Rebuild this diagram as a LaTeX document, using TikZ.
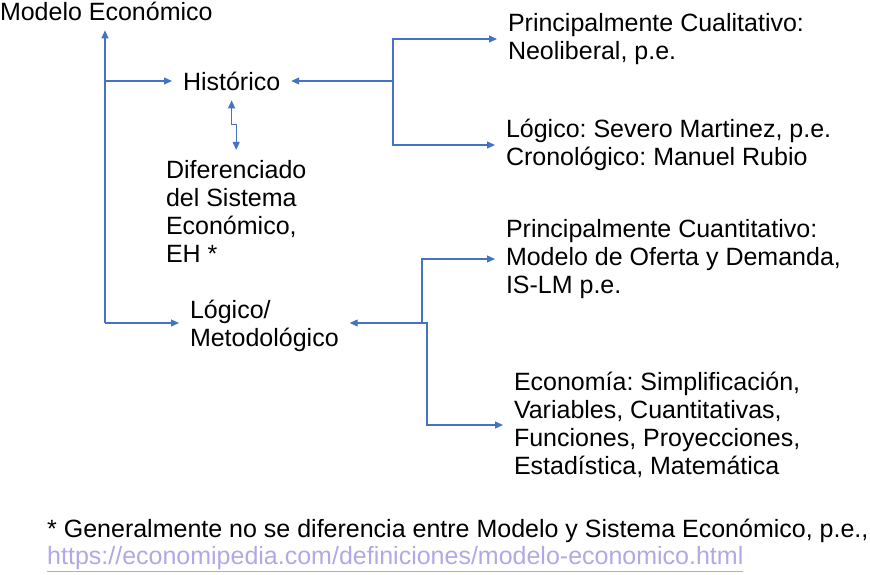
\documentclass[tikz,border=0pt]{standalone}
\usepackage{fontspec}
\setmainfont{Liberation Sans}
\usetikzlibrary{arrows.meta}
\definecolor{flecha}{RGB}{68,114,196}
\definecolor{enlace}{RGB}{180,167,229}
\frenchspacing
\tikzset{
  >={Triangle[length=8pt,width=7pt]},
  texto/.style={font=\fontsize{25}{28}\selectfont, align=left, anchor=west, inner sep=0pt, outer xsep=11pt, outer ysep=10pt, text=black},
  conector/.style={draw=flecha, line width=1.2pt},
  nota/.style={font=\fontsize{25}{28}\selectfont, anchor=west, inner sep=0pt},
}

\begin{document}
\begin{tikzpicture}[x=1pt,y=-1pt]
\useasboundingbox (0,0) rectangle (870,575);
\node[texto] (modelo) at (-11,11) {Modelo Económico};
\node[texto] (historico) at (172,81) {Histórico};
\node[texto] (diferenciado) at (155,211) {Diferenciado\\del Sistema\\Económico,\\EH *};
\node[texto] (logico) at (179,326) {Lógico/\\Metodológico};
\node[texto] (cualitativo) at (497,39) {Principalmente Cualitativo:\\Neoliberal, p.e.};
\node[texto] (severo) at (495,145) {Lógico: Severo Martinez, p.e.\\Cronológico: Manuel Rubio};
\node[texto] (cuantitativo) at (495,259) {Principalmente Cuantitativo:\\Modelo de Oferta y Demanda,\\IS-LM p.e.};
\node[texto] (economia) at (503,425) {Economía: Simplificación,\\Variables, Cuantitativas,\\Funciones, Proyecciones,\\Estadística, Matemática};
\node[nota] (asterisco) at (47,531) {* Generalmente no se diferencia entre Modelo y Sistema Económico, p.e.,};
\node[nota, text=enlace] (enlace) at (47,559) {\underline{https://economipedia.com/definiciones/modelo-economico.html}};

\coordinate (tronco) at (105,323);
\coordinate (nudoH) at (393,81);
\coordinate (nudoL) at (422,323);

\draw[conector,->] (tronco) -- (tronco |- modelo.south);
\draw[conector,->] (tronco |- historico.west) -- (historico.west);
\draw[conector,->] (tronco) -- (tronco -| logico.west);
\draw[conector,<->] (historico.south) -- ++(0,24) -| (diferenciado.north);
\draw[conector,->] (nudoH) -- (historico.east);
\draw[conector,->] (nudoH) |- (cualitativo.west);
\draw[conector,->] (nudoH) |- (severo.west);
\draw[conector,->] (nudoL) -- (nudoL -| logico.east);
\draw[conector,->] (nudoL) |- (cuantitativo.west);
\draw[conector,->] (nudoL) -- ++(5,0) |- (economia.west);
\end{tikzpicture}
\end{document}
